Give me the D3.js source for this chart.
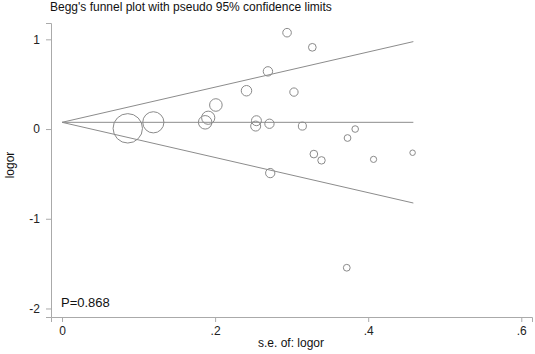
<!DOCTYPE html>
<html>
<head>
<meta charset="utf-8">
<script src="https://cdn.jsdelivr.net/npm/d3@7"></script>
<style>
  body { margin: 0; background: #fff; }
  svg { font-family: Arial, "Liberation Sans", sans-serif; }
</style>
</head>
<body>
<div id="chart"></div>
<script>
// study standard errors and log odds ratios
const se = [0.0859, 0.1193, 0.187, 0.191, 0.201, 0.241, 0.294, 0.327, 0.269, 0.303, 0.254,
            0.253, 0.271, 0.314, 0.383, 0.373, 0.329, 0.339, 0.407, 0.458, 0.272, 0.372];
const logor = [0.008, 0.075, 0.075, 0.126, 0.268, 0.427, 1.074, 0.911, 0.643, 0.412, 0.093,
               0.033, 0.059, 0.033, 0.0, -0.100, -0.279, -0.349, -0.338, -0.264, -0.491, -1.546];
const pooled = 0.075;
const maxSe = 0.459;
const xTicks = [0, 0.2, 0.4, 0.6];
const xTickLabels = ["0", ".2", ".4", ".6"];
const yTicks = [-2, -1, 0, 1];
const yTickLabels = ["-2", "-1", "0", "1"];

const W = 535, H = 354;
const svg = d3.select("#chart").append("svg")
    .attr("width", W)
    .attr("height", H);

const x = d3.scaleLinear().domain([-0.0144, 0.614]).range([51, 532]);
const y = d3.scaleLinear().domain([-2.095, 1.182]).range([317, 23]);
const r = d3.scaleSqrt().domain([0, 1 / (0.0859 * 0.0859)]).range([0, 14.7]);

const axisColor = "#aaa";

const xAxis = svg.append("g")
    .attr("transform", "translate(0,317)")
    .call(d3.axisBottom(x).tickValues(xTicks).tickSizeOuter(0).tickSize(5).tickPadding(4)
        .tickFormat((d, i) => xTickLabels[i]));
const yAxis = svg.append("g")
    .attr("transform", "translate(51,0)")
    .call(d3.axisLeft(y).tickValues(yTicks).tickSizeOuter(0).tickSize(5).tickPadding(6)
        .tickFormat((d, i) => yTickLabels[i]));

[xAxis, yAxis].forEach(g => {
    g.select(".domain").attr("stroke", axisColor);
    g.selectAll(".tick line").attr("stroke", axisColor);
    g.selectAll(".tick text").attr("fill", "#222").style("font-size", "12px")
        .style("font-family", "Arial, 'Liberation Sans', sans-serif");
});

// pseudo 95% confidence limits and pooled line
const lineColor = "#8c8c8c";
const lines = [
    [[0, pooled], [maxSe, pooled + 1.96 * maxSe]],
    [[0, pooled], [maxSe, pooled]],
    [[0, pooled], [maxSe, pooled - 1.96 * maxSe]]
];
svg.selectAll("line.limit")
    .data(lines)
  .enter().append("line")
    .attr("class", "limit")
    .attr("x1", d => x(d[0][0]))
    .attr("y1", d => y(d[0][1]))
    .attr("x2", d => x(d[1][0]))
    .attr("y2", d => y(d[1][1]))
    .attr("stroke", lineColor)
    .attr("stroke-width", 1);

svg.selectAll("circle")
    .data(se.map((s, i) => ({ se: s, logor: logor[i] })))
  .enter().append("circle")
    .attr("cx", d => x(d.se))
    .attr("cy", d => y(d.logor))
    .attr("r", d => r(1 / (d.se * d.se)))
    .attr("fill", "none")
    .attr("stroke", "#8a8a8a")
    .attr("stroke-width", 1);

svg.append("text")
    .attr("x", 50)
    .attr("y", 11)
    .style("font-size", "12px")
    .attr("fill", "#111")
    .text("Begg's funnel plot with pseudo 95% confidence limits");

svg.append("text")
    .attr("x", 61)
    .attr("y", 307)
    .style("font-size", "13px")
    .attr("fill", "#111")
    .text("P=0.868");

svg.append("text")
    .attr("x", 291)
    .attr("y", 347)
    .style("text-anchor", "middle")
    .style("font-size", "12px")
    .attr("fill", "#111")
    .text("s.e. of: logor");

svg.append("text")
    .attr("transform", "translate(14,165) rotate(-90)")
    .style("text-anchor", "middle")
    .style("font-size", "12px")
    .attr("fill", "#111")
    .text("logor");
</script>
</body>
</html>
